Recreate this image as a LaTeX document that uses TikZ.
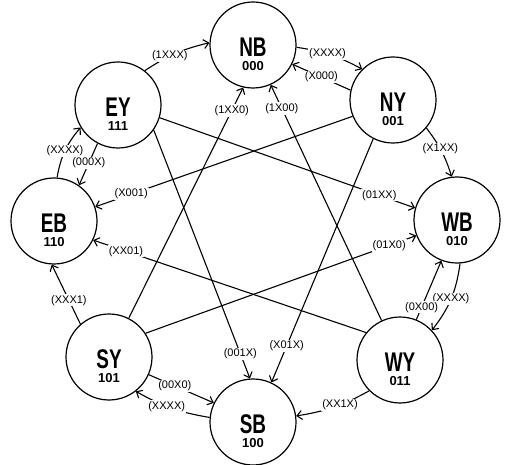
\documentclass[tikz,border=0pt]{standalone}
\usepackage{fontspec}
\setmainfont{Liberation Sans}
\newfontfamily\namefont[FakeStretch=0.7]{Liberation Sans}
\usetikzlibrary{arrows.meta}
\begin{document}
\begin{tikzpicture}[x=1pt,y=-1pt,
  state/.style={circle,draw,line width=1.2pt,minimum size=86pt,inner sep=0pt},
  nm/.style={font=\namefont\bfseries\fontsize{27}{27}\selectfont,inner sep=0pt},
  cd/.style={font=\bfseries\fontsize{13}{13}\selectfont,inner sep=0pt},
  tr/.style={line width=1.1pt,-{Straight Barb[length=5pt,width=9pt]}},
  lb/.style={fill=white,inner sep=1pt,font=\fontsize{11}{11}\selectfont}]
\useasboundingbox (0,0) rectangle (506,465);
\node[state,label={[nm,yshift=-2pt]center:NB},label={[cd,yshift=-21.5pt]center:000}] (NB) at (253,45) {};
\node[state,label={[nm,yshift=-2pt]center:NY},label={[cd,yshift=-21.5pt]center:001}] (NY) at (393,100) {};
\node[state,label={[nm,yshift=-2pt]center:WB},label={[cd,yshift=-21.5pt]center:010}] (WB) at (457,220) {};
\node[state,label={[nm,yshift=-2pt]center:WY},label={[cd,yshift=-21.5pt]center:011}] (WY) at (400,360) {};
\node[state,label={[nm,yshift=-2pt]center:SB},label={[cd,yshift=-21.5pt]center:100}] (SB) at (253,422) {};
\node[state,label={[nm,yshift=-2pt]center:SY},label={[cd,yshift=-21.5pt]center:101}] (SY) at (109,357) {};
\node[state,label={[nm,yshift=-2pt]center:EB},label={[cd,yshift=-21.5pt]center:110}] (EB) at (54,221) {};
\node[state,label={[nm,yshift=-2pt]center:EY},label={[cd,yshift=-21.5pt]center:111}] (EY) at (118,105) {};
% outer ring
\draw[tr] (EY.52) to[bend left=10] node[lb,pos=.4]{(1XXX)} (NB.177);
\draw[tr] (NB.357) to[bend left=10] node[lb,pos=.45]{(XXXX)} (NY.135);
\draw[tr] (NY.167) to node[lb,pos=.5]{(X000)} (NB.334);
\draw[tr] (NY.320) to[bend left=10] node[lb,pos=.45]{(X1XX)} (WB.97);
\draw[tr] (WB.274) to[bend left=15] node[lb,pos=.5]{(XXXX)} (WY.43);
\draw[tr] (WY.68) to node[lb,pos=.21]{(0X00)} (WB.249);
\draw[tr] (WY.225) to[bend left=10] node[lb,pos=.41]{(XX1X)} (SB.8);
\draw[tr] (SY.336) to node[lb,pos=.4]{(00X0)} (SB.154);
\draw[tr] (SB.174) to[bend left=10] node[lb,pos=.57]{(XXXX)} (SY.308);
\draw[tr] (SY.131) to node[lb,pos=.4]{(XXX1)} (EB.267);
\draw[tr] (EB.86) to[bend left=15] node[lb,pos=.5]{(XXXX)} (EY.211);
\draw[tr] (EY.242) to node[lb,pos=.47]{(000X)} (EB.55);
% inner star
\draw[tr] (NY.202) to node[lb,pos=.86]{(X001)} (EB.19);
\draw[tr] (EY.343) to node[lb,pos=.86]{(01XX)} (WB.164);
\draw[tr] (WY.141) to node[lb,pos=.88]{(XX01)} (EB.334);
\draw[tr] (SY.33) to node[lb,pos=.9]{(01X0)} (WB.201);
\draw[tr] (SY.63) to node[lb,pos=.9]{(1XX0)} (NB.257);
\draw[tr] (WY.115) to node[lb,pos=.9]{(1X00)} (NB.294);
\draw[tr] (EY.325) to node[lb,pos=.9]{(001X)} (SB.94);
\draw[tr] (NY.243) to node[lb,pos=.85]{(X01X)} (SB.65);
\end{tikzpicture}
\end{document}
